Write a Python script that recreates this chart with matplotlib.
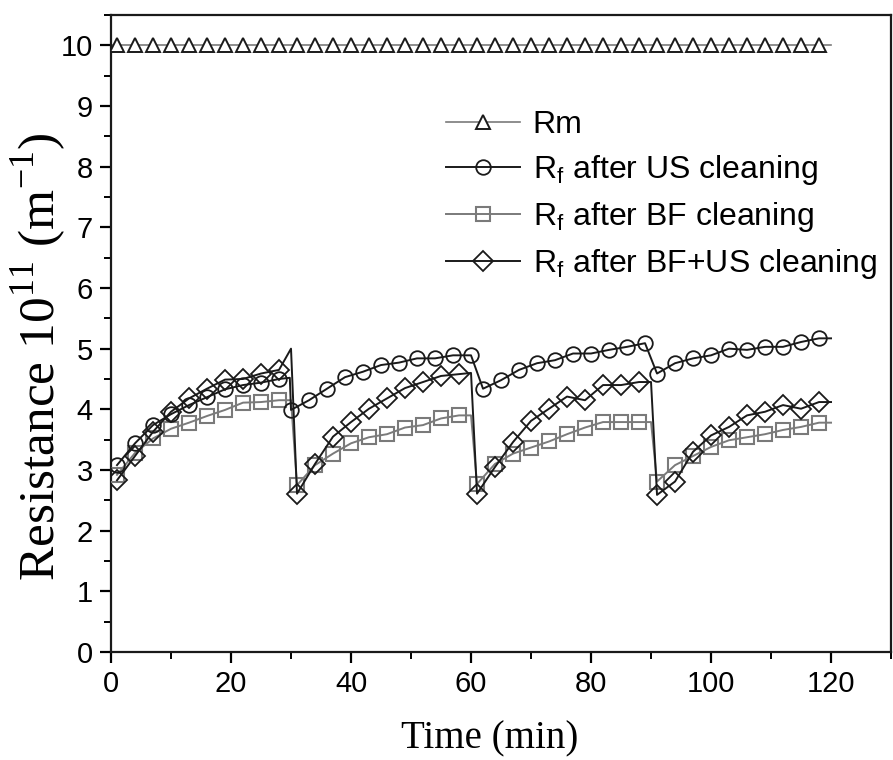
import matplotlib
matplotlib.use("Agg")
import matplotlib.pyplot as plt
from matplotlib.ticker import MultipleLocator

# ---------------- data ----------------
rm_time = [1, 4, 7, 10, 13, 16, 19, 22, 25, 28, 31, 34, 37, 40, 43, 46, 49, 52, 55, 58,
           61, 64, 67, 70, 73, 76, 79, 82, 85, 88, 91, 94, 97, 100, 103, 106, 109, 112, 115, 118]
rm_value = [10.0] * 40
rm_line_time = [0, 120]
rm_line_value = [10.0, 10.0]

# Rf after US cleaning (circles)
us_time = [1, 4, 7, 10, 13, 16, 19, 22, 25, 28, 29.8,
           30, 33, 36, 39, 42, 45, 48, 51, 54, 57, 60,
           62, 65, 68, 71, 74, 77, 80, 83, 86, 89,
           91, 94, 97, 100, 103, 106, 109, 112, 115, 118, 120]
us_value = [3.08, 3.44, 3.74, 3.92, 4.07, 4.20, 4.33, 4.40, 4.44, 4.50, 4.52,
            3.99, 4.15, 4.34, 4.53, 4.62, 4.73, 4.77, 4.84, 4.84, 4.89, 4.89,
            4.34, 4.48, 4.65, 4.76, 4.81, 4.92, 4.92, 4.98, 5.03, 5.09,
            4.59, 4.76, 4.84, 4.89, 5.00, 4.98, 5.03, 5.03, 5.11, 5.17, 5.17]
us_marked = [True] * 10 + [False] + [True] * 11 + [True] * 10 + [True] * 10 + [False]

# Rf after BF cleaning (squares)
bf_time = [1, 4, 7, 10, 13, 16, 19, 22, 25, 28, 30,
           31, 34, 37, 40, 43, 46, 49, 52, 55, 58, 60,
           61, 64, 67, 70, 73, 76, 79, 82, 85, 88, 90,
           91, 94, 97, 100, 103, 106, 109, 112, 115, 118, 120]
bf_value = [2.92, 3.28, 3.52, 3.68, 3.78, 3.89, 3.99, 4.11, 4.12, 4.15, 4.15,
            2.75, 3.08, 3.27, 3.44, 3.54, 3.59, 3.70, 3.74, 3.85, 3.90, 3.90,
            2.77, 3.10, 3.27, 3.37, 3.47, 3.59, 3.70, 3.79, 3.79, 3.79, 3.79,
            2.81, 3.08, 3.23, 3.38, 3.49, 3.54, 3.59, 3.66, 3.71, 3.78, 3.78]
bf_marked = ([True] * 10 + [False]) * 3 + [True] * 10 + [False]

# Rf after BF+US cleaning (diamonds)
bfus_time = [1, 4, 7, 10, 13, 16, 19, 22, 25, 28, 30,
             31, 34, 37, 40, 43, 46, 49, 52, 55, 58, 60,
             61, 64, 67, 70, 73, 76, 79, 82, 85, 88, 90,
             91, 94, 97, 100, 103, 106, 109, 112, 115, 118, 120]
bfus_value = [2.83, 3.23, 3.63, 3.96, 4.18, 4.34, 4.49, 4.50, 4.59, 4.65, 5.00,
              2.61, 3.10, 3.55, 3.79, 4.01, 4.18, 4.35, 4.45, 4.55, 4.58, 4.60,
              2.61, 3.05, 3.46, 3.81, 4.01, 4.21, 4.15, 4.40, 4.40, 4.45, 4.45,
              2.59, 2.81, 3.30, 3.57, 3.71, 3.90, 3.96, 4.07, 4.01, 4.12, 4.12]
bfus_marked = ([True] * 10 + [False]) * 3 + [True] * 10 + [False]

labels = ["Rm",
          r"R$_\mathregular{f}$ after US cleaning",
          r"R$_\mathregular{f}$ after BF cleaning",
          r"R$_\mathregular{f}$ after BF+US cleaning"]
x_ticks = [0, 20, 40, 60, 80, 100, 120]
y_ticks = [0, 1, 2, 3, 4, 5, 6, 7, 8, 9, 10]

# ---------------- plot ----------------
plt.rcParams['font.family'] = ['Liberation Sans', 'DejaVu Sans']
fig = plt.figure(figsize=(8.93, 7.60), dpi=100)
ax = fig.add_axes([0.1243, 0.1421, 0.8735, 0.8382])

dark = "#1a1a1a"
gray = "#7a7a7a"

def marked_idx(flags):
    return [i for i, f in enumerate(flags) if f]

# Rm
ax.plot(rm_line_time, rm_line_value, color=gray, lw=1.2, zorder=2)
ax.plot(rm_time, rm_value, ls='none', marker='^', ms=10, mfc='white',
        mec=dark, mew=1.4, zorder=3)
h_rm, = ax.plot([], [], color=gray, lw=1.2, marker='^', ms=10, mfc='white',
                mec=dark, mew=1.4)

h_us, = ax.plot(us_time, us_value, color=dark, lw=1.4, marker='o', ms=10.5,
                mfc='none', mec=dark, mew=1.3, markevery=marked_idx(us_marked), zorder=4)
h_bf, = ax.plot(bf_time, bf_value, color=gray, lw=1.4, marker='s', ms=9.5,
                mfc='none', mec=gray, mew=1.5, markevery=marked_idx(bf_marked), zorder=3)
h_bfus, = ax.plot(bfus_time, bfus_value, color=dark, lw=1.4, marker='D', ms=10.0,
                  mfc='none', mec=dark, mew=1.3, markevery=marked_idx(bfus_marked), zorder=4)

ax.set_xlim(0, 130)
ax.set_ylim(0, 10.5)
ax.set_xticks(x_ticks)
ax.set_yticks(y_ticks)
ax.xaxis.set_minor_locator(MultipleLocator(10))
ax.yaxis.set_minor_locator(MultipleLocator(0.5))
ax.tick_params(axis='both', which='major', direction='out', length=8, width=1.6,
               labelsize=21, top=False, right=False, pad=5)
ax.tick_params(axis='both', which='minor', direction='out', length=5, width=1.4,
               top=False, right=False)
for s in ax.spines.values():
    s.set_linewidth(1.6)
    s.set_color(dark)

ax.set_xlabel("Time (min)", fontfamily='Liberation Serif', fontsize=28)
ax.xaxis.set_label_coords(0.486, -0.108)
ax.set_ylabel(r"Resistance 10$^{\mathregular{11}}$ (m$^{\mathregular{-1}}$)",
              fontfamily='Liberation Serif', fontsize=37)
ax.yaxis.set_label_coords(-0.054, 0.463)

leg = ax.legend([h_rm, h_us, h_bf, h_bfus], labels, loc='upper left',
                bbox_to_anchor=(0.43, 0.851), frameon=False, fontsize=23,
                handlelength=2.3, handletextpad=0.4, labelspacing=0.41,
                borderaxespad=0, borderpad=0)

fig.savefig("out.png", dpi=100)
